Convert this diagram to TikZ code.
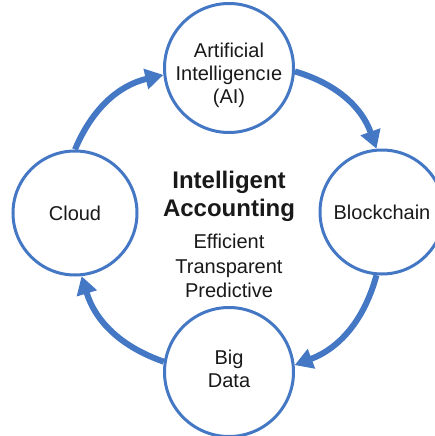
\documentclass[tikz,border=0pt]{standalone}
\usepackage{fontspec}
\setmainfont{Liberation Sans}
\usetikzlibrary{arrows.meta}
\definecolor{techblue}{RGB}{68,119,196}
\definecolor{textdark}{RGB}{25,25,25}

\begin{document}
\begin{tikzpicture}[
    x=1pt, y=-1pt,
    tech/.style={circle, draw=techblue, line width=3pt, fill=white, minimum size=124pt, inner sep=0pt, align=center, text=textdark, font=\fontsize{20}{23}\selectfont},
    bigtech/.style={tech, minimum size=129pt},
    techtext/.style={align=center, text=textdark, font=\fontsize{20}{23}\selectfont},
    arrow/.style={-{Triangle[length=18pt,width=20pt]}, line width=6pt, techblue, bend left=27}
]
    \useasboundingbox (0,0) rectangle (435,436);

    % Tecnologie
    \node[bigtech] (ai) at (229,68) {};
    \node[techtext] (ailabel) at (229,75) {Artificial\\Intelligencıe\\(AI)};
    \node[tech] (blockchain) at (382,212) {Blockchain};
    \node[bigtech] (bigdata) at (229,372) {};
    \node[techtext] (bigdatalabel) at (229,369) {Big\\Data};
    \node[tech] (cloud) at (75,213) {Cloud};

    % Centro
    \node[techtext, font=\fontsize{24}{28}\selectfont\bfseries] (title) at (229,196) {Intelligent\\Accounting};
    \node[techtext, font=\fontsize{20}{24.5}\selectfont] (benefits) at (229,266) {Efficient\\Transparent\\Predictive};

    % Ciclo
    \draw[arrow] (cloud.90) to (ai.186);
    \draw[arrow] (ai.-3) to (blockchain.95);
    \draw[arrow] (blockchain.-95) to (bigdata.6);
    \draw[arrow] (bigdata.171) to (cloud.-84);
\end{tikzpicture}
\end{document}
